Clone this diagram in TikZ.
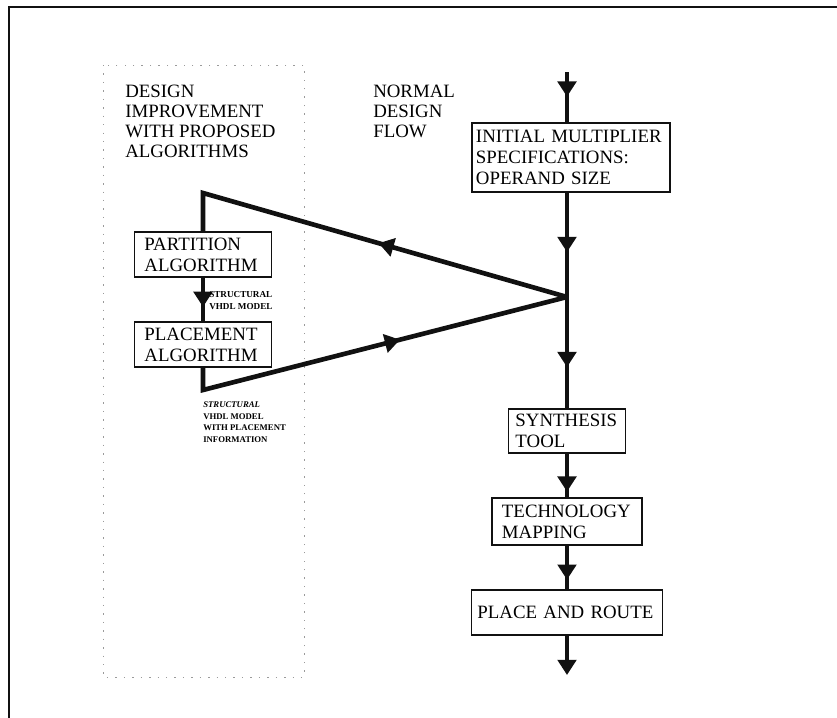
\documentclass[tikz,border=0pt]{standalone}
\usepackage{fontspec}
\setmainfont{Liberation Serif}
\usetikzlibrary{arrows.meta,positioning,decorations.markings}
\definecolor{vink}{HTML}{111111}
\definecolor{vgrid}{HTML}{9A9A9A}
\tikzset{
  stage/.style={draw=vink,line width=0.9pt,fill=white,align=left,font=\fontsize{13.4}{15}\selectfont,inner ysep=0pt},
  flow/.style={draw=vink,line width=3.3pt},
  arrowat/.style={postaction={decorate},decoration={markings,mark=at position #1 with {\arrow{Triangle[length=0.38cm,width=0.46cm]}}}},
  endarr/.style={-{Triangle[length=0.38cm,width=0.46cm]}},
  head/.style={align=left,font=\fontsize{13.4}{14.2}\selectfont,inner sep=0pt,anchor=north west},
  tag/.style={align=left,font=\fontsize{6.5}{8.5}\selectfont\bfseries,inner sep=0pt,anchor=north west},
}
\begin{document}
\begin{tikzpicture}[x=0.025cm,y=-0.025cm]
  \useasboundingbox (0,0) rectangle (837,718);
  \draw[vink,line width=1.2pt] (9,718) -- (9,7) -- (837,7);
  \draw[vgrid,line width=0.5pt,dash pattern=on 1pt off 5pt] (103,65) rectangle (304,677);
  \node[head] (improve) at (125,85) {DESIGN\\IMPROVEMENT\\WITH PROPOSED\\ALGORITHMS};
  \node[head] (normal) at (373,85) {NORMAL\\DESIGN\\FLOW};
  % normal design flow
  \coordinate (top) at (567,72);
  \coordinate (apex) at (567,297);
  \coordinate (out) at (567,675);
  \node[stage,inner xsep=0.1cm,text width=4.75cm,minimum height=1.725cm] (spec) at (571,157.5) {INITIAL MULTIPLIER\\SPECIFICATIONS:\\OPERAND SIZE};
  \node[stage,inner xsep=0.175cm,text width=2.575cm,minimum height=1.1cm] (synth) at (567,431) {SYNTHESIS\\TOOL};
  \node[stage,inner xsep=0.25cm,text width=3.25cm,minimum height=1.175cm] (tech) at (567,521.5) {TECHNOLOGY\\MAPPING};
  \node[stage,inner xsep=0.15cm,text width=4.475cm,minimum height=1.125cm] (pnr) at (567,612.5) {PLACE AND ROUTE};
  \draw[flow,arrowat=0.49] (top) -- (top |- spec.north);
  \draw[flow,arrowat=0.57] (top |- spec.south) -- (apex);
  \draw[flow,arrowat=0.63] (apex) -- (synth);
  \draw[flow,arrowat=0.87] (synth) -- (tech);
  \draw[flow,arrowat=0.78] (tech) -- (pnr);
  \draw[flow,endarr] (pnr) -- (out);
  % proposed algorithms
  \coordinate (tl) at (203,193);
  \coordinate (bl) at (203,390);
  \node[stage,inner xsep=0.25cm,text width=2.925cm,minimum height=1.125cm] (part) at (203,254.5) {PARTITION\\ALGORITHM};
  \node[stage,inner xsep=0.25cm,text width=2.925cm,minimum height=1.125cm] (place) at (203,344.5) {PLACEMENT\\ALGORITHM};
  \draw[flow,arrowat=0.47] (apex) -- (tl) -- (part);
  \draw[flow,arrowat=0.67] (part) -- (place);
  \draw[flow,arrowat=0.567] (place) -- (bl) -- (apex);
  \node[tag] (vhdl) at (209,291) {STRUCTURAL\\VHDL MODEL};
  \node[tag,font=\fontsize{6.2}{8.5}\selectfont\bfseries] (vhdlpl) at (203,401) {\textit{STRUCTURAL}\\VHDL MODEL\\WITH PLACEMENT\\INFORMATION};
\end{tikzpicture}
\end{document}
